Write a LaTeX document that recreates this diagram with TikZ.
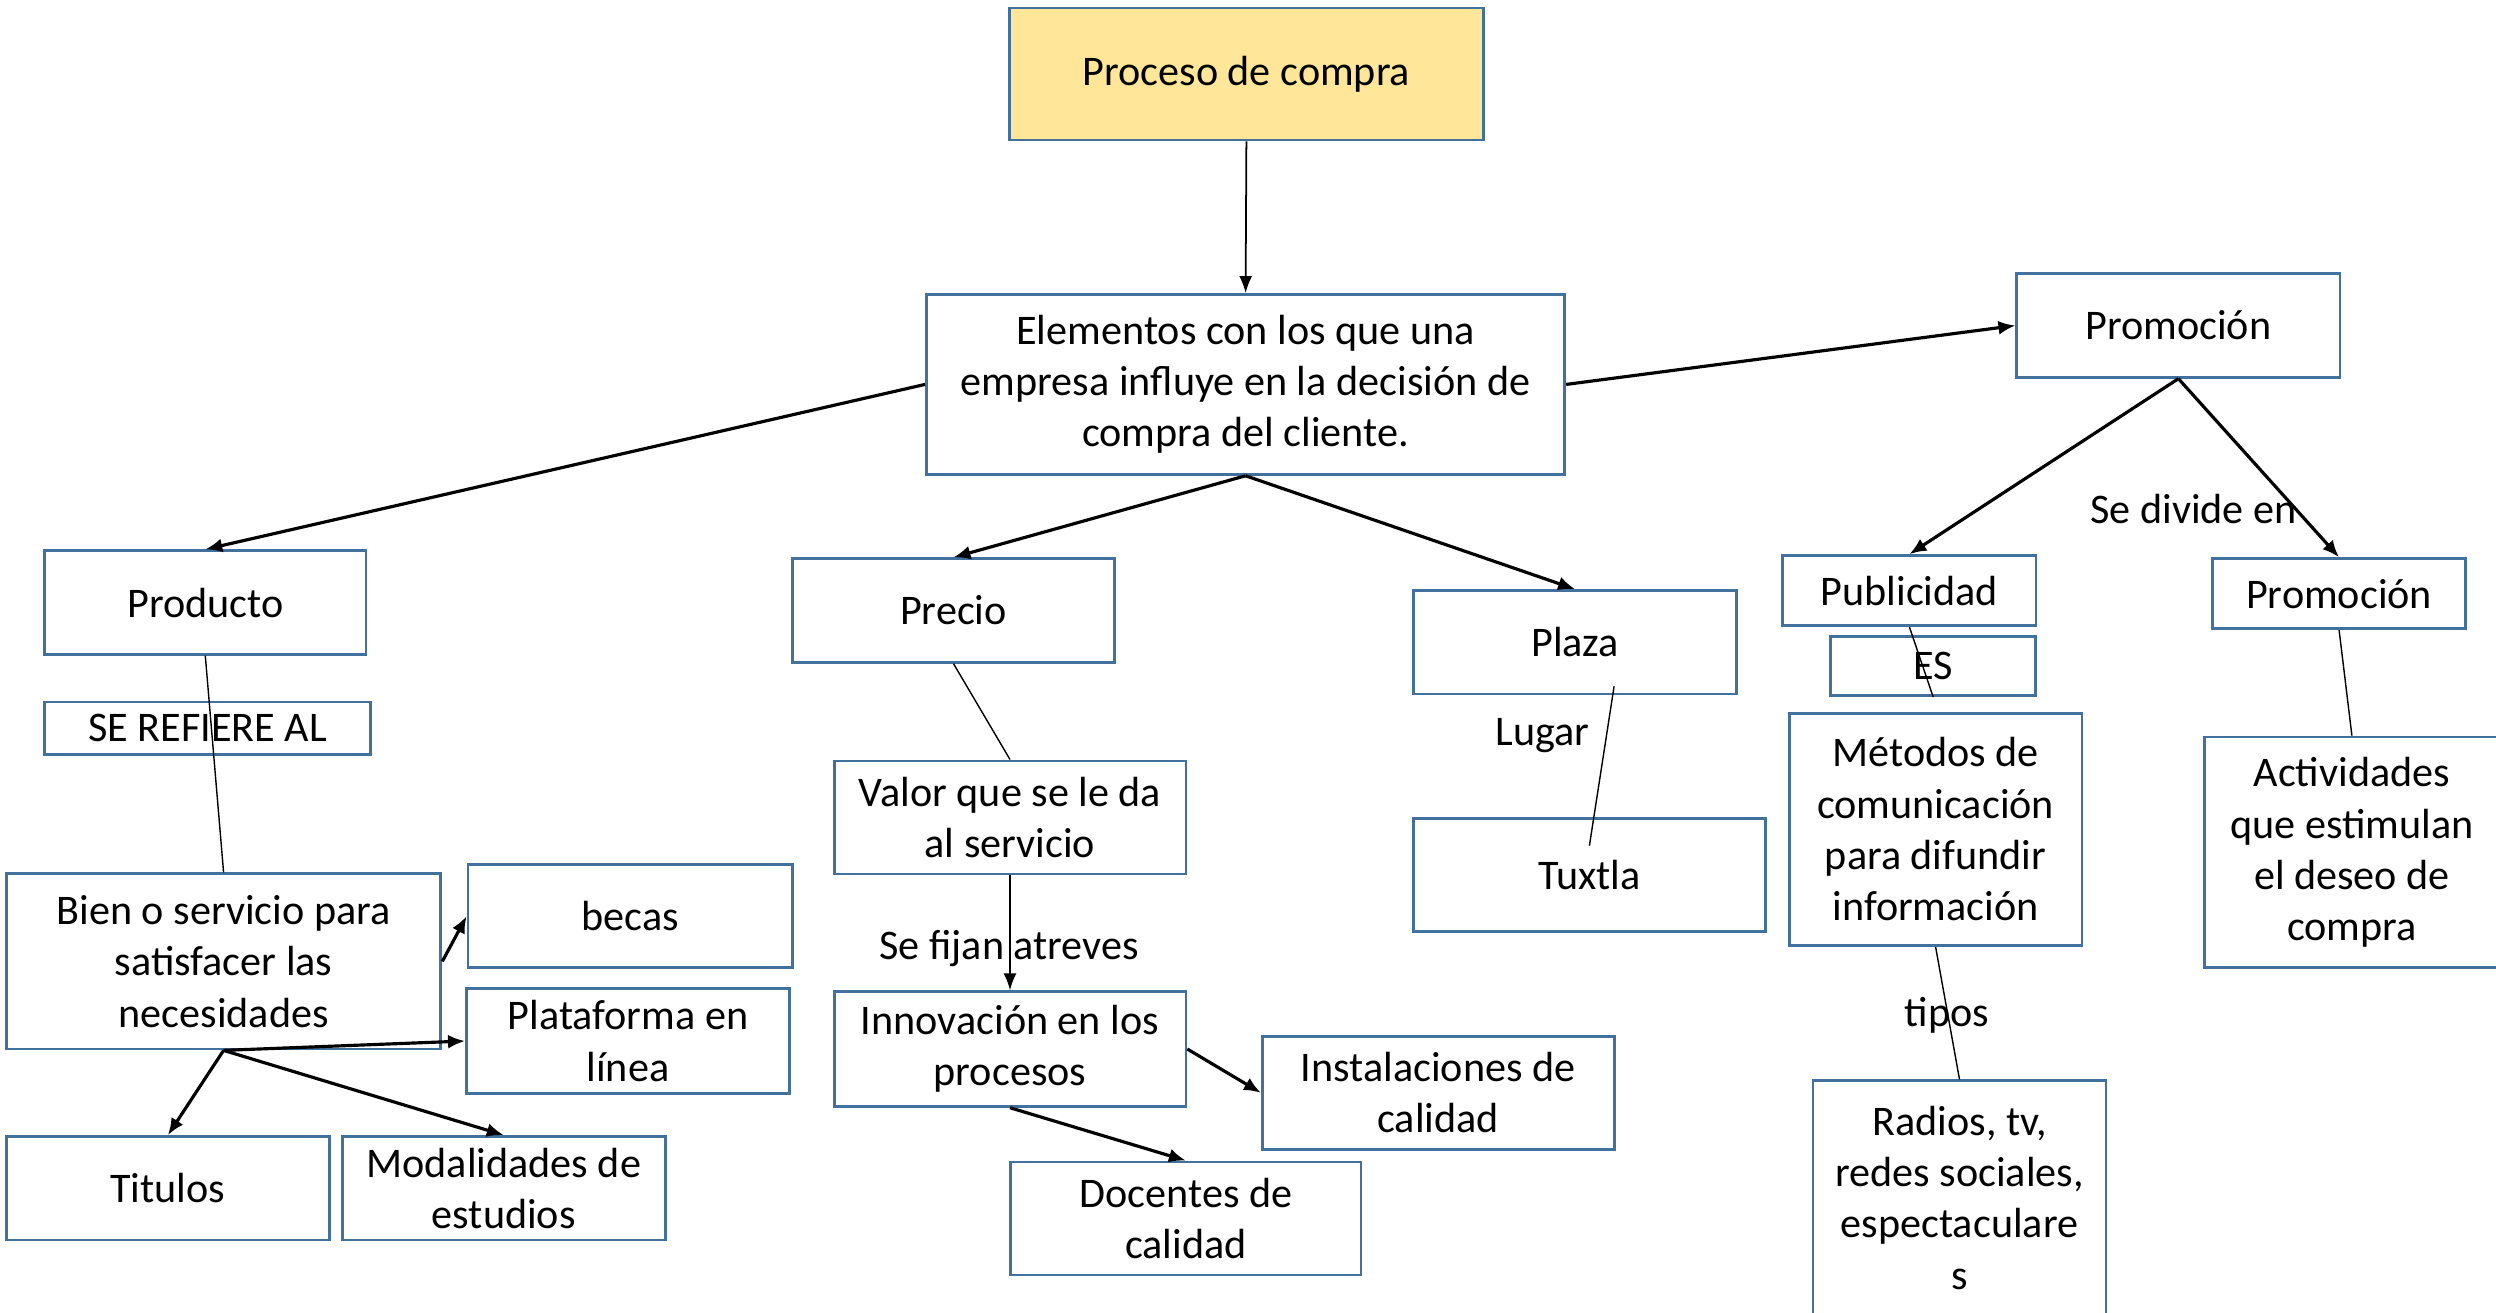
\documentclass[tikz,border=0pt]{standalone}
\usepackage{fontspec}
\setmainfont{Carlito}
\usetikzlibrary{arrows.meta}

\definecolor{BoxBorder}{HTML}{41719C}
\definecolor{FilledTitle}{HTML}{FFE699}

\tikzset{
    ConceptBox/.style={draw=BoxBorder, line width=0.8pt, fill=white, align=center,
        inner sep=1pt, font=\fontsize{12}{14.6}\selectfont},
    LinkText/.style={inner sep=1pt, font=\fontsize{12}{14.6}\selectfont},
    MainArrow/.style={line width=0.9pt, -{Latex[length=0.17cm,width=0.14cm]}},
    ThinArrow/.style={line width=0.5pt, -{Latex[length=0.17cm,width=0.13cm]}},
    ThinLine/.style={line width=0.4pt}
}

\begin{document}
\begin{tikzpicture}

    \useasboundingbox (0, 0) rectangle (24.96, -13.12);

    \node[ConceptBox, fill=FilledTitle, minimum width=4.744cm, minimum height=1.321cm] (Proceso) at (12.464, -0.740) {Proceso de compra};
    \node[ConceptBox, minimum width=6.383cm, minimum height=1.799cm] (Elementos) at (12.456, -3.844) {Elementos con los que una\\empresa influye en la decisión de\\compra del cliente.};
    \node[ConceptBox, minimum width=3.231cm, minimum height=1.035cm] (Promocion) at (21.784, -3.255) {Promoción};

    \node[ConceptBox, minimum width=3.215cm, minimum height=1.035cm] (Producto) at (2.053, -6.025) {Producto};
    \node[ConceptBox, minimum width=3.215cm, minimum height=1.035cm] (Precio) at (9.535, -6.105) {Precio};
    \node[ConceptBox, minimum width=3.231cm, minimum height=1.035cm] (Plaza) at (15.751, -6.423) {Plaza};
    \node[ConceptBox, minimum width=2.531cm, minimum height=0.700cm] (Publicidad) at (19.094, -5.906) {Publicidad};
    \node[ConceptBox, minimum width=2.531cm, minimum height=0.700cm] (PromocionDos) at (23.391, -5.937) {Promoción};

    \node[ConceptBox, minimum width=3.263cm, minimum height=0.525cm] (SeRefiere) at (2.077, -7.283) {SE REFIERE AL};
    \node[ConceptBox, minimum width=2.053cm, minimum height=0.589cm] (Es) at (19.332, -6.662) {ES};
    \node[LinkText] (Lugar) at (15.425, -7.354) {Lugar};
    \node[LinkText] (SeDivide) at (21.935, -5.094) {Se divide en};

    \node[ConceptBox, minimum width=3.518cm, minimum height=1.130cm] (Valor) at (10.100, -8.174) {Valor que se le da\\al servicio};
    \node[ConceptBox, minimum width=3.518cm, minimum height=1.130cm] (Tuxtla) at (15.894, -8.747) {Tuxtla};
    \node[ConceptBox, minimum width=2.929cm, minimum height=2.324cm] (Metodos) at (19.356, -8.293) {Métodos de\\comunicación\\para difundir\\información};
    \node[ConceptBox, minimum width=2.945cm, minimum height=2.308cm] (Actividades) at (23.519, -8.524) {Actividades\\que estimulan\\el deseo de\\compra};

    \node[ConceptBox, minimum width=4.346cm, minimum height=1.751cm] (Bien) at (2.236, -9.614) {Bien o servicio para\\satisfacer las\\necesidades};
    \node[ConceptBox, minimum width=3.247cm, minimum height=1.035cm] (Becas) at (6.304, -9.161) {becas};
    \node[ConceptBox, minimum width=3.231cm, minimum height=1.051cm] (Plataforma) at (6.280, -10.410) {Plataforma en\\línea};
    \node[LinkText] (SeFijan) at (10.092, -9.487) {Se fijan atreves};
    \node[ConceptBox, minimum width=3.518cm, minimum height=1.146cm] (Innovacion) at (10.100, -10.490) {Innovación en los\\procesos};
    \node[ConceptBox, minimum width=3.518cm, minimum height=1.130cm] (Instalaciones) at (14.382, -10.928) {Instalaciones de\\calidad};
    \node[ConceptBox, minimum width=3.502cm, minimum height=1.130cm] (Docentes) at (11.859, -12.185) {Docentes de\\calidad};
    \node[ConceptBox, minimum width=3.231cm, minimum height=1.035cm] (Titulos) at (1.679, -11.883) {Titulos};
    \node[ConceptBox, minimum width=3.231cm, minimum height=1.035cm] (Modalidades) at (5.038, -11.883) {Modalidades de\\estudios};
    \node[LinkText] (Tipos) at (19.468, -10.156) {tipos};
    \node[ConceptBox, minimum width=2.929cm, minimum height=2.340cm] (Radios) at (19.595, -11.978) {Radios, tv,\\redes sociales,\\espectaculare\\s};

    \coordinate (PlazaEnd) at ([shift={(0.39,-0.44)}]Plaza.center);
    \coordinate (TuxtlaEnd) at ([yshift=0.29cm]Tuxtla.center);

    \draw[ThinArrow] (Proceso.south) -- (Elementos.north);
    \draw[MainArrow] (Elementos.west) -- (Producto.north);
    \draw[MainArrow] (Elementos.south) -- (Precio.north);
    \draw[MainArrow] (Elementos.south) -- (Plaza.north);
    \draw[MainArrow] (Elementos.east) -- (Promocion.west);
    \draw[MainArrow] (Promocion.south) -- (Publicidad.north);
    \draw[MainArrow] (Promocion.south) -- (PromocionDos.north);

    \draw[ThinLine] (Producto.south) -- (Bien.north);
    \draw[ThinLine] (Precio.south) -- (Valor.north);
    \draw[ThinLine] (PlazaEnd) -- (TuxtlaEnd);
    \draw[ThinLine] (Publicidad.south) -- (Es.south);
    \draw[ThinLine] (Metodos.south) -- (Radios.north);
    \draw[ThinLine] (PromocionDos.south) -- (Actividades.north);
    \draw[ThinArrow] (Valor.south) -- (Innovacion.north);

    \draw[MainArrow] (Bien.east) -- (Becas.west);
    \draw[MainArrow] (Bien.south) -- (Plataforma.west);
    \draw[MainArrow] (Bien.south) -- (Titulos.north);
    \draw[MainArrow] (Bien.south) -- (Modalidades.north);
    \draw[MainArrow] (Innovacion.east) -- (Instalaciones.west);
    \draw[MainArrow] (Innovacion.south) -- (Docentes.north);
\end{tikzpicture}
\end{document}
